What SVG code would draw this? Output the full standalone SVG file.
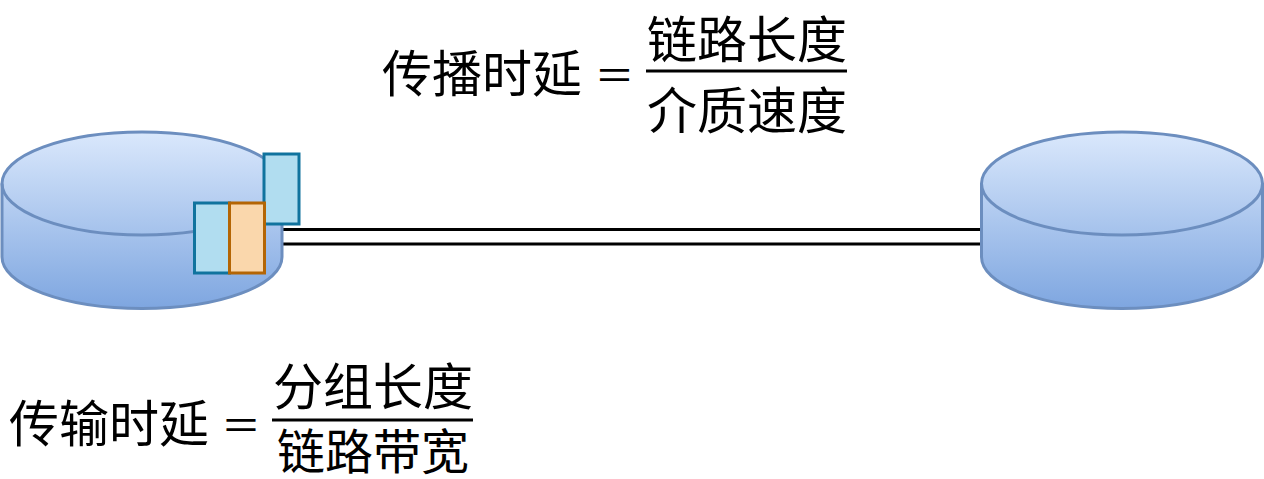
<svg xmlns="http://www.w3.org/2000/svg" width="1264" height="479" viewBox="0 0 1264 479">
<defs>
<linearGradient id="cyl" x1="0" y1="0" x2="0" y2="1">
<stop offset="0" stop-color="#dae8fc"/>
<stop offset="1" stop-color="#7ea6e0"/>
</linearGradient>
<style>
.cyl{fill:url(#cyl);stroke:#6c8ebf;stroke-width:3}
.lid{fill:none;stroke:#6c8ebf;stroke-width:3}
.blue{fill:#b1ddf0;stroke:#10739e;stroke-width:3}
.orange{fill:#fad7ac;stroke:#b46504;stroke-width:3}
.link{stroke:#000;stroke-width:3;fill:none}
.t{font-family:"Noto Sans CJK SC","Noto Sans",sans-serif;font-size:50px;fill:#000;dominant-baseline:central}
.eq{font-family:"Noto Sans CJK SC","Noto Sans",sans-serif;font-size:40px;fill:#000;dominant-baseline:central;text-anchor:middle}
.bar{stroke:#000;stroke-width:3}
</style>
</defs>
<g id="connectors">
<line class="link" x1="282" y1="229.5" x2="981" y2="229.5"/>
<line class="link" x1="282" y1="244" x2="981" y2="244"/>
</g>
<g id="host-left">
<path class="cyl" d="M2,183.5 A140,51.5 0 0 1 282,183.5 L282,257 A140,51.5 0 0 1 2,257 Z"/>
<path class="lid" d="M2,183.5 A140,51.5 0 0 0 282,183.5"/>
</g>
<g id="host-right">
<path class="cyl" d="M981.5,183.5 A140.5,51.5 0 0 1 1262.5,183.5 L1262.5,257 A140.5,51.5 0 0 1 981.5,257 Z"/>
<path class="lid" d="M981.5,183.5 A140.5,51.5 0 0 0 1262.5,183.5"/>
</g>
<g id="packet-top"><rect class="blue" x="264" y="154" width="35" height="70"/></g>
<g id="packet-blue"><rect class="blue" x="194.5" y="203" width="35" height="70"/></g>
<g id="packet-orange"><rect class="orange" x="229.5" y="203" width="35" height="70"/></g>
<g id="formula-propagation">
<text class="t" x="382" y="70">传播时延</text>
<text class="eq" x="614.5" y="73">＝</text>
<line class="bar" x1="646" y1="71" x2="847" y2="71"/>
<text class="t" x="747" y="36" text-anchor="middle">链路长度</text>
<text class="t" x="747" y="107" text-anchor="middle">介质速度</text>
</g>
<g id="formula-transmission">
<text class="t" x="9" y="420">传输时延</text>
<text class="eq" x="241" y="423">＝</text>
<line class="bar" x1="272" y1="420" x2="473" y2="420"/>
<text class="t" x="373" y="383" text-anchor="middle">分组长度</text>
<text class="t" x="373" y="448" text-anchor="middle" style="font-size:48px">链路带宽</text>
</g>
</svg>
